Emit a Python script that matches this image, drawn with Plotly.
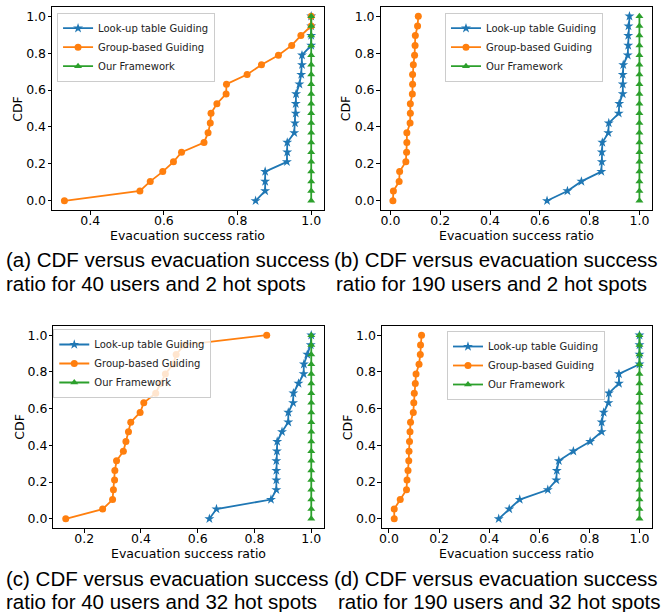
import plotly.graph_objects as go

# ---------------- data ----------------
CDF_LEVELS = [0.0, 0.053, 0.105, 0.158, 0.211, 0.263, 0.316, 0.368, 0.421, 0.474,
              0.526, 0.579, 0.632, 0.684, 0.737, 0.789, 0.842, 0.895, 0.947, 1.0]

SERIES_NAMES = ["Look-up table Guiding", "Group-based Guiding", "Our Framework"]

# (a) 40 users, 2 hot spots
LOOKUP_A = [0.849, 0.875, 0.875, 0.875, 0.934, 0.935, 0.935, 0.954, 0.956, 0.958,
            0.958, 0.959, 0.968, 0.973, 0.975, 0.975, 1.0, 1.0, 1.0, 1.0]
GROUP_A = [0.33, 0.535, 0.563, 0.597, 0.626, 0.648, 0.709, 0.72, 0.726, 0.728,
           0.744, 0.769, 0.77, 0.826, 0.865, 0.911, 0.947, 0.972, 1.0, 1.0]
OURS_A = [1.0, 1.0, 1.0, 1.0, 1.0, 1.0, 1.0, 1.0, 1.0, 1.0,
          1.0, 1.0, 1.0, 1.0, 1.0, 1.0, 1.0, 1.0, 1.0, 1.0]

# (b) 190 users, 2 hot spots
LOOKUP_B = [0.629, 0.711, 0.767, 0.847, 0.849, 0.849, 0.851, 0.875, 0.877, 0.917,
            0.919, 0.933, 0.933, 0.933, 0.935, 0.953, 0.955, 0.955, 0.956, 0.96]
GROUP_B = [0.01, 0.012, 0.035, 0.037, 0.062, 0.065, 0.066, 0.066, 0.079, 0.08,
           0.08, 0.088, 0.089, 0.089, 0.092, 0.097, 0.099, 0.1, 0.109, 0.112]
OURS_B = [1.0, 1.0, 1.0, 1.0, 1.0, 1.0, 1.0, 1.0, 1.0, 1.0,
          1.0, 1.0, 1.0, 1.0, 1.0, 1.0, 1.0, 1.0, 1.0, 1.0]

# (c) 40 users, 32 hot spots
LOOKUP_C = [0.641, 0.666, 0.858, 0.877, 0.877, 0.877, 0.877, 0.879, 0.88, 0.897,
            0.919, 0.919, 0.936, 0.937, 0.955, 0.973, 0.974, 0.986, 0.998, 1.0]
GROUP_C = [0.135, 0.265, 0.30, 0.303, 0.307, 0.308, 0.314, 0.338, 0.347, 0.356,
           0.364, 0.397, 0.41, 0.452, 0.469, 0.486, 0.513, 0.524, 0.553, 0.843]
OURS_C = [1.0, 1.0, 1.0, 1.0, 1.0, 1.0, 1.0, 1.0, 1.0, 1.0,
          1.0, 1.0, 1.0, 1.0, 1.0, 1.0, 1.0, 1.0, 1.0, 1.0]

# (d) 190 users, 32 hot spots
LOOKUP_D = [0.438, 0.48, 0.522, 0.634, 0.668, 0.67, 0.678, 0.736, 0.803, 0.849,
            0.849, 0.857, 0.876, 0.878, 0.918, 0.918, 1.0, 1.0, 1.0, 1.0]
GROUP_D = [0.021, 0.021, 0.045, 0.07, 0.072, 0.076, 0.079, 0.08, 0.082, 0.084,
           0.086, 0.097, 0.099, 0.101, 0.105, 0.108, 0.12, 0.125, 0.126, 0.13]
OURS_D = [1.0, 1.0, 1.0, 1.0, 1.0, 1.0, 1.0, 1.0, 1.0, 1.0,
          1.0, 1.0, 1.0, 1.0, 1.0, 1.0, 1.0, 1.0, 1.0, 1.0]

X_TITLE = "Evacuation success ratio"
Y_TITLE = "CDF"
CAPTIONS = [
    ("(a) CDF versus evacuation success", "ratio for 40 users and 2 hot spots"),
    ("(b) CDF versus evacuation success", "ratio for 190 users and 2 hot spots"),
    ("(c) CDF versus evacuation success", "ratio for 40 users and 32 hot spots"),
    ("(d) CDF versus evacuation success", "ratio for 190 users and 32 hot spots"),
]

# ---------------- styling / layout ----------------
W, H = 663, 612
COLORS = ["#1f77b4", "#ff7f0e", "#2ca02c"]
SYMBOLS = ["star", "circle", "triangle-up"]
MSIZE = [7.5, 7, 7]
TICK_FONT = dict(family="DejaVu Sans", size=12.5, color="black")
TITLE_FONT = dict(family="DejaVu Sans", size=12.5, color="black")
CAP_FONT = dict(family="Liberation Sans", size=20.5, color="black")

def px_x(p):
    return p / W

def px_y(p):
    return 1 - p / H

# pixel boxes of each axes: (left, right, top, bottom)
BOXES = [
    (49.3, 322.0, 7.0, 210.0),
    (379.3, 651.7, 7.0, 210.0),
    (50.7, 322.0, 326.0, 528.0),
    (380.7, 651.7, 326.0, 528.0),
]
# legend top-left corners (pixels)
LEGEND_POS = [(54.3, 12.7), (444.0, 12.7), (50.5, 329.0), (446.0, 331.0)]
# caption text: (line1 left x, line1 y, line2 left x, line2 y) in pixels
CAP_POS = [
    (1.0, 259.0, 1.0, 283.0),
    (330.0, 259.0, 333.0, 283.0),
    (1.0, 578.0, 1.0, 601.0),
    (330.0, 578.0, 335.0, 601.0),
]

PANELS = [
    (LOOKUP_A, GROUP_A, OURS_A),
    (LOOKUP_B, GROUP_B, OURS_B),
    (LOOKUP_C, GROUP_C, OURS_C),
    (LOOKUP_D, GROUP_D, OURS_D),
]

fig = go.Figure()
layout = dict(
    width=W, height=H,
    margin=dict(l=0, r=0, t=0, b=0),
    paper_bgcolor="white", plot_bgcolor="white",
    showlegend=True,
    annotations=[],
)

for i, series in enumerate(PANELS):
    n = i + 1
    xa = "x" if n == 1 else f"x{n}"
    ya = "y" if n == 1 else f"y{n}"
    leg = "legend" if n == 1 else f"legend{n}"
    for k, xs in enumerate(series):
        fig.add_trace(go.Scatter(
            x=xs, y=CDF_LEVELS, mode="lines+markers", name=SERIES_NAMES[k],
            xaxis=xa, yaxis=ya, legend=leg,
            line=dict(color=COLORS[k], width=1.8),
            marker=dict(symbol=SYMBOLS[k], size=MSIZE[k], color=COLORS[k],
                        line=dict(width=0)),
        ))
    allx = [v for s in series for v in s]
    lo, hi = min(allx), max(allx)
    pad = 0.05 * (hi - lo)
    l, r, t, b = BOXES[i]
    axis_common = dict(
        showline=True, linecolor="black", linewidth=1, mirror=True,
        ticks="outside", ticklen=3.5, tickwidth=1, tickcolor="black",
        showgrid=False, zeroline=False, tickfont=TICK_FONT,
        tickmode="linear", tick0=0, dtick=0.2, tickformat=".1f",
    )
    layout["xaxis" if n == 1 else f"xaxis{n}"] = dict(
        axis_common, domain=[px_x(l), px_x(r)], range=[lo - pad, hi + pad],
        anchor=ya, ticklabelstandoff=-5,
    )
    layout["yaxis" if n == 1 else f"yaxis{n}"] = dict(
        axis_common, domain=[px_y(b), px_y(t)], range=[-0.05, 1.05],
        anchor=xa, ticklabelstandoff=-1,
    )
    # axis titles as text annotations (positioned as in the reference)
    layout["annotations"].append(dict(
        text=X_TITLE, x=px_x((l + r) / 2), y=px_y(b + 25.5), xref="paper", yref="paper",
        xanchor="center", yanchor="middle", showarrow=False, font=TITLE_FONT,
    ))
    layout["annotations"].append(dict(
        text=Y_TITLE, x=px_x(l - 35), y=px_y((t + b) / 2), xref="paper", yref="paper",
        xanchor="center", yanchor="middle", showarrow=False, font=TITLE_FONT,
        textangle=-90,
    ))
    lx, ly = LEGEND_POS[i]
    layout[leg] = dict(
        x=px_x(lx), y=px_y(ly), xanchor="left", yanchor="top",
        xref="paper", yref="paper",
        bgcolor="rgba(255,255,255,0.8)", bordercolor="#cccccc", borderwidth=1,
        font=dict(family="DejaVu Sans", size=10, color="#222222"),
        itemwidth=30, tracegroupgap=0,
    )
    c1, c2 = CAPTIONS[i]
    x1, y1, x2, y2 = CAP_POS[i]
    for txt, xx, yy in ((c1, x1, y1), (c2, x2, y2)):
        layout["annotations"].append(dict(
            text=txt, x=px_x(xx), y=px_y(yy), xref="paper", yref="paper",
            xanchor="left", yanchor="middle", showarrow=False, font=CAP_FONT,
        ))

fig.update_layout(**layout)
fig.write_html("out.html")
